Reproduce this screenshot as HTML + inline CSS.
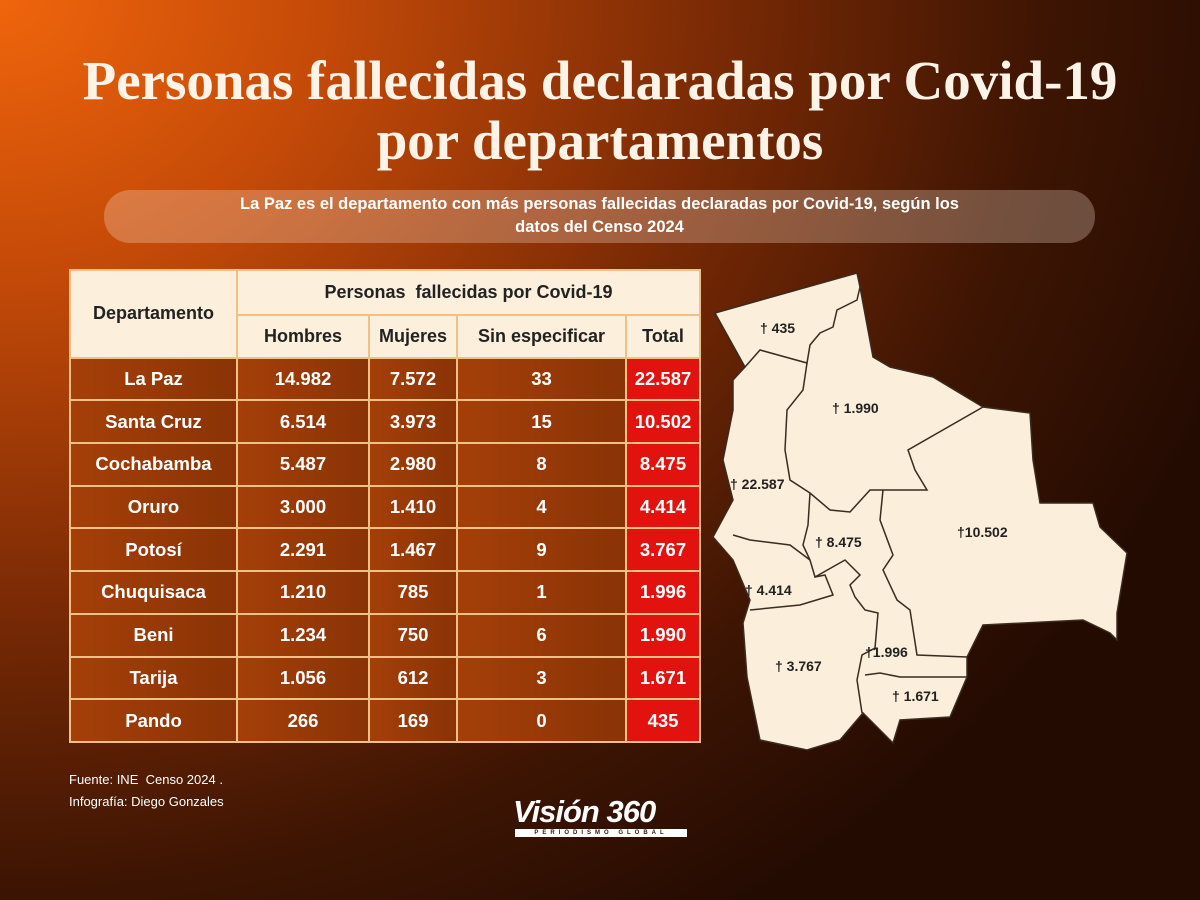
<!DOCTYPE html><html><head><meta charset="utf-8"><style>
*{margin:0;padding:0;box-sizing:border-box}
body{width:1200px;height:900px;overflow:hidden;font-family:"Liberation Sans",sans-serif;
background:radial-gradient(ellipse 1300px 1100px at 0px 0px,#f0650c 0%,#c44a08 25%,#7a2a05 55%,#3e1503 80%,#240b02 100%);position:relative}
.t{position:absolute;left:0;width:1200px;text-align:center;font-family:"Liberation Serif",serif;font-weight:bold;color:#fdf3e6;font-size:55px;letter-spacing:0px;line-height:58px;white-space:nowrap}
.pill{position:absolute;left:104px;top:190px;width:991px;height:53px;border-radius:26px;background:rgba(255,235,215,.28);color:#fff;font-weight:bold;font-size:16.5px;text-align:center;line-height:23px;padding-top:3px}
table{position:absolute;left:69px;top:269px;border-collapse:collapse}
td{border:2px solid #f0c088;text-align:center;font-weight:bold;font-size:18.5px;color:#fff;height:42.7px;padding:0}
td.h{background:#fcefdc;color:#222;font-size:18px}
tr.d td{background:linear-gradient(90deg,#a53f08,#8a3306)}
tr.d td.r{background:#e2130f}
.f{position:absolute;left:69px;color:#fff;font-size:13px}
</style></head><body>
<div class="t" style="top:52px">Personas fallecidas declaradas por Covid-19</div>
<div class="t" style="top:112px">por departamentos</div>
<div class="pill">La Paz es el departamento con más personas fallecidas declaradas por Covid-19, según los<br>datos del Censo 2024</div>
<table>
<tr><td class="h" rowspan="2" style="width:167px">Departamento</td><td class="h" colspan="4" style="height:45px">Personas&nbsp; fallecidas por Covid-19</td></tr>
<tr><td class="h" style="width:132px">Hombres</td><td class="h" style="width:88px">Mujeres</td><td class="h" style="width:169px">Sin especificar</td><td class="h" style="width:74px">Total</td></tr>
<tr class="d"><td>La Paz</td><td>14.982</td><td>7.572</td><td>33</td><td class="r">22.587</td></tr>
<tr class="d"><td>Santa Cruz</td><td>6.514</td><td>3.973</td><td>15</td><td class="r">10.502</td></tr>
<tr class="d"><td>Cochabamba</td><td>5.487</td><td>2.980</td><td>8</td><td class="r">8.475</td></tr>
<tr class="d"><td>Oruro</td><td>3.000</td><td>1.410</td><td>4</td><td class="r">4.414</td></tr>
<tr class="d"><td>Potosí</td><td>2.291</td><td>1.467</td><td>9</td><td class="r">3.767</td></tr>
<tr class="d"><td>Chuquisaca</td><td>1.210</td><td>785</td><td>1</td><td class="r">1.996</td></tr>
<tr class="d"><td>Beni</td><td>1.234</td><td>750</td><td>6</td><td class="r">1.990</td></tr>
<tr class="d"><td>Tarija</td><td>1.056</td><td>612</td><td>3</td><td class="r">1.671</td></tr>
<tr class="d"><td>Pando</td><td>266</td><td>169</td><td>0</td><td class="r">435</td></tr>
</table>
<div class="f" style="top:772px">Fuente: INE&nbsp; Censo 2024 .</div>
<div class="f" style="top:794px">Infografía: Diego Gonzales</div>
<div style="position:absolute;left:513px;top:794px;color:#fff;font-weight:bold;font-style:italic;font-size:31px;letter-spacing:-1px">Visión 360</div>
<div style="position:absolute;left:515px;top:829px;width:172px;height:8px;background:#fff;color:#3a1403;font-size:6px;font-weight:bold;letter-spacing:4px;line-height:8px;text-align:center">PERIODISMO GLOBAL</div>
<svg style="position:absolute;left:0;top:0" width="1200" height="900">
<path fill="#fbeedb" stroke="#3a2a20" stroke-width="1.5" d="M715,313 L857,273 L860,287 L873,357 L890,367 L933,377 L983,407 L1030,413 L1033,460 L1040,503 L1093,503 L1100,527 L1127,553 L1117,613 L1117,640 L1110,633 L1083,620 L983,625 L967,657 L967,677 L950,717 L900,720 L893,743 L863,713 L840,740 L807,750 L760,740 L747,677 L743,623 L750,600 L733,560 L713,537 L733,500 L723,460 L733,410 L733,380 L745,367 Z"/>
<g fill="none" stroke="#3a2a20" stroke-width="1.5">
<path d="M745,367 L760,350 L807,363 L810,345 L820,333 L833,327 L837,310 L857,300 L860,287"/>
<path d="M807,363 L803,390 L787,410 L785,450 L790,480 L810,493 L830,510 L850,512 L870,490 L927,490 L915,470 L908,450 L983,407"/>
<path d="M810,493 L808,525 L803,545 L810,560 L815,577 L845,560 L860,575 L850,585 L855,597 L865,610 L878,613 L875,648 L862,655 L857,680 L862,713"/>
<path d="M883,490 L880,520 L893,555 L883,570 L897,600 L910,610 L917,655 L967,657"/>
<path d="M733,535 L750,540 L790,545 L810,560"/>
<path d="M750,610 L800,605 L833,595 L825,575 L815,577"/>
<path d="M865,675 L880,673 L900,677 L967,677"/>
</g>
<g font-family="Liberation Sans,sans-serif" font-weight="bold" font-size="14" fill="#222">
<text x="760" y="333">† 435</text><text x="832" y="413">† 1.990</text>
<text x="730" y="489">† 22.587</text><text x="815" y="547">† 8.475</text>
<text x="957" y="537">†10.502</text><text x="745" y="595">† 4.414</text>
<text x="775" y="671">† 3.767</text><text x="865" y="657">†1.996</text>
<text x="892" y="701">† 1.671</text>
</g></svg>
</body></html>
